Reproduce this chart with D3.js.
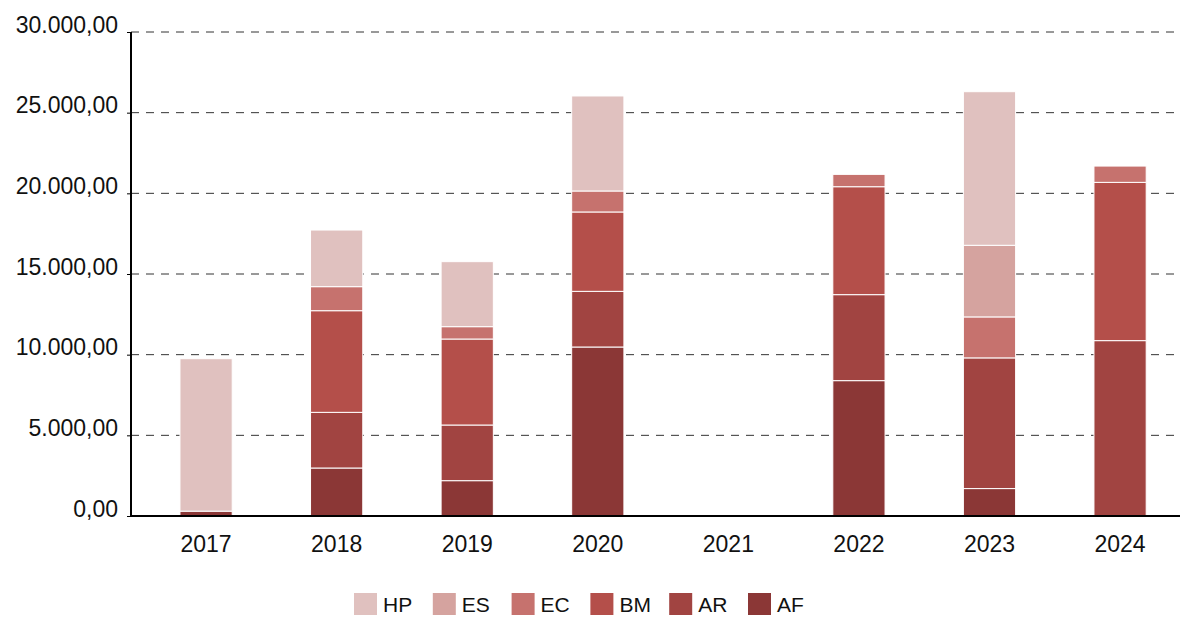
<!DOCTYPE html>
<html>
<head>
<meta charset="utf-8">
<script src="https://cdn.jsdelivr.net/npm/d3@7"></script>
<style>
  body { margin: 0; background: #fff; }
  text { font-family: "Liberation Sans", Arial, sans-serif; fill: #111; }
</style>
</head>
<body>
<svg id="chart" width="1183" height="617"></svg>
<script>
// data
var years = ['2017', '2018', '2019', '2020', '2021', '2022', '2023', '2024'];
var seriesKeys = ['AF', 'AR', 'BM', 'EC', 'ES', 'HP'];
var legendKeys = ['HP', 'ES', 'EC', 'BM', 'AR', 'AF'];
var AF = [300, 2975, 2190, 10475, 0, 8390, 1700, 0];
var AR = [0, 3450, 3450, 3450, 0, 5330, 8100, 10870];
var BM = [0, 6300, 5330, 4920, 0, 6690, 0, 9810];
var EC = [0, 1490, 765, 1300, 0, 765, 2540, 1010];
var ES = [0, 0, 0, 0, 0, 0, 4440, 0];
var HP = [9450, 3510, 4030, 5890, 0, 0, 9520, 0];
var yTicks = [0, 5000, 10000, 15000, 20000, 25000, 30000];

var colors = {
  HP: '#e0c1bf',
  ES: '#d5a39f',
  EC: '#c6726e',
  BM: '#b44f4a',
  AR: '#a14441',
  AF: '#8b3736'
};

var values = {AF: AF, AR: AR, BM: BM, EC: EC, ES: ES, HP: HP};
var rows = years.map(function (y, i) {
  var r = {year: y};
  seriesKeys.forEach(function (k) { r[k] = values[k][i]; });
  return r;
});

var svg = d3.select('#chart'),
  plotLeft = 131,
  plotTop = 32,
  plotBottom = 516,
  gridRight = 1180;

var x = d3.scaleBand()
  .domain(years)
  .range([plotLeft, plotLeft + 130.57 * 8.15])
  .paddingInner(0.6)
  .paddingOuter(0.375);

var y = d3.scaleLinear()
  .domain([0, 30000])
  .range([plotBottom, plotTop]);

var fmt = function (d) {
  return d3.format(',.2f')(d).replace(/,/g, 'X').replace(/\./g, ',').replace(/X/g, '.');
};

// grid lines
svg.append('g')
  .selectAll('line')
  .data(yTicks.filter(function (d) { return d > 0; }))
  .enter()
  .append('line')
  .attr('x1', plotLeft)
  .attr('x2', gridRight)
  .attr('y1', function (d) { return y(d); })
  .attr('y2', function (d) { return y(d); })
  .style('stroke', '#333')
  .style('stroke-width', 1)
  .style('stroke-dasharray', '8,7');

// stacked bars
var stack = d3.stack().keys(seriesKeys)(rows);

svg.append('g')
  .selectAll('g')
  .data(stack)
  .enter()
  .append('g')
  .style('fill', function (d) { return colors[d.key]; })
  .selectAll('rect')
  .data(function (d) { return d.filter(function (s) { return s[1] - s[0] > 0; }); })
  .enter()
  .append('rect')
  .attr('x', function (d) { return x(d.data.year); })
  .attr('width', x.bandwidth())
  .attr('y', function (d) { return y(d[1]); })
  .attr('height', function (d) { return y(d[0]) - y(d[1]); })
  .style('stroke', '#fff')
  .style('stroke-width', 1);

// y axis
var yAxis = svg.append('g')
  .attr('transform', 'translate(' + plotLeft + ',0)')
  .call(d3.axisLeft(y).tickValues(yTicks).tickFormat(fmt).tickSize(4).tickPadding(9));
yAxis.select('.domain').remove();
yAxis.selectAll('line').style('stroke', '#000');
yAxis.selectAll('text')
  .style('font-size', '23px')
  .style('font-family', '"Liberation Sans", Arial, sans-serif')
  .style('fill', '#111')
  .attr('dy', '0');

// x axis
var xAxis = svg.append('g')
  .attr('transform', 'translate(0,' + plotBottom + ')')
  .call(d3.axisBottom(x).tickSize(0).tickPadding(20));
xAxis.select('.domain').remove();
xAxis.selectAll('text')
  .style('font-size', '23px')
  .style('font-family', '"Liberation Sans", Arial, sans-serif')
  .style('fill', '#111');

// axis lines
svg.append('line')
  .attr('x1', plotLeft).attr('x2', plotLeft)
  .attr('y1', plotTop).attr('y2', plotBottom + 1)
  .style('stroke', '#000').style('stroke-width', 2);
svg.append('line')
  .attr('x1', plotLeft - 1).attr('x2', gridRight)
  .attr('y1', plotBottom).attr('y2', plotBottom)
  .style('stroke', '#000').style('stroke-width', 2);

// legend
var legend = svg.append('g')
  .selectAll('g')
  .data(legendKeys)
  .enter()
  .append('g')
  .attr('transform', function (d, i) { return 'translate(' + (354 + i * 78.8) + ',593)'; });

legend.append('rect')
  .attr('width', 23)
  .attr('height', 22)
  .style('fill', function (d) { return colors[d]; });

legend.append('text')
  .attr('x', 29)
  .attr('y', 19)
  .style('font-size', '21px')
  .text(function (d) { return d; });
</script>
</body>
</html>
